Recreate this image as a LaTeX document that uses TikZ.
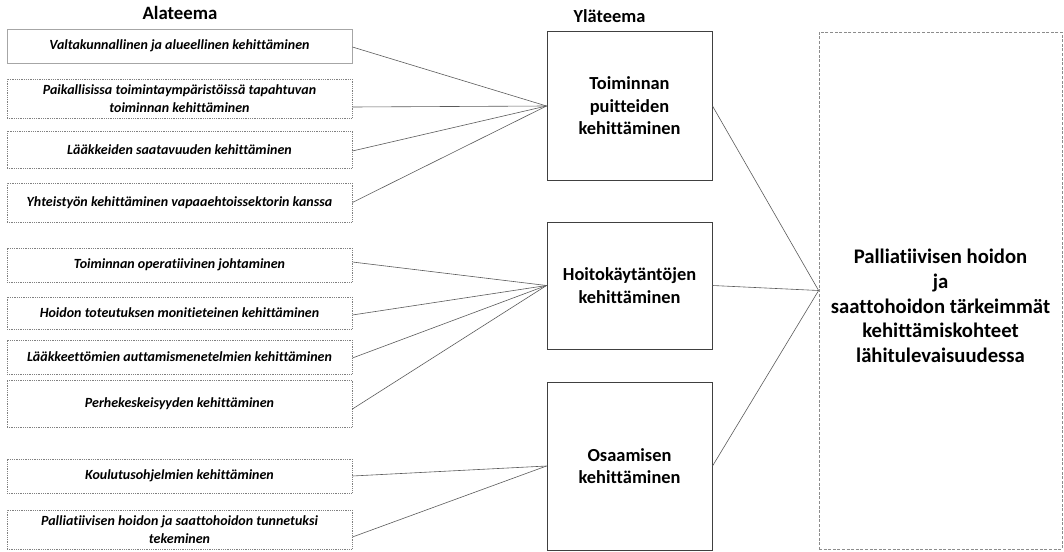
\documentclass[tikz,border=0pt]{standalone}
\usepackage{fontspec}
\setmainfont{Carlito}[Ligatures=NoCommon]
\definecolor{subgray}{HTML}{808080}
\definecolor{firstgray}{HTML}{A6A6A6}
\definecolor{topgray}{HTML}{404040}
\definecolor{maingray}{HTML}{8C8C8C}
\definecolor{linkgray}{HTML}{5A5A5A}
\begin{document}
\begin{tikzpicture}[x=1pt,y=-1pt,
  subbox/.style={draw=subgray, dash pattern=on 0.9pt off 0.9pt, line width=0.8pt,
    minimum width=345pt, inner sep=0pt, align=center,
    font=\fontsize{14}{18.5}\selectfont\bfseries\itshape},
  firstbox/.style={subbox, draw=firstgray, solid, line width=0.8pt},
  topbox/.style={draw=topgray, line width=1pt, minimum width=165pt, inner sep=0pt,
    align=center, font=\fontsize{18.4}{22.5}\selectfont\bfseries},
  mainbox/.style={draw=maingray, dash pattern=on 3pt off 1.6pt, line width=0.8pt,
    minimum width=243pt, minimum height=517pt, inner sep=0pt},
  maintext/.style={align=center, inner sep=0pt, font=\fontsize{20.7}{24.8}\selectfont\bfseries},
  head/.style={inner sep=0pt, font=\fontsize{18.8}{22}\selectfont\bfseries},
  link/.style={draw=linkgray, line width=0.6pt}]
\useasboundingbox (0,0) rectangle (1064,551);

\node[head] (hA) at (180,13) {Alateema};
\node[head, font=\fontsize{18.4}{22}\selectfont\bfseries] (hY) at (609.5,16) {Yläteema};

\node[firstbox, minimum height=34pt] (b1) at (179.5,46) {Valtakunnallinen ja alueellinen kehittäminen};
\node[subbox, minimum height=39pt] (b2) at (179.5,98.5) {Paikallisissa toimintaympäristöissä tapahtuvan\\toiminnan kehittäminen};
\node[subbox, minimum height=37pt] (b3) at (179.5,149.5) {Lääkkeiden saatavuuden kehittäminen};
\node[subbox, minimum height=39pt] (b4) at (179.5,202.5) {Yhteistyön kehittäminen vapaaehtoissektorin kanssa};
\node[subbox, minimum height=34pt] (b5) at (179.5,265) {Toiminnan operatiivinen johtaminen};
\node[subbox, minimum height=32pt] (b6) at (179.5,313) {Hoidon toteutuksen monitieteinen kehittäminen};
\node[subbox, minimum height=34pt] (b7) at (179.5,357) {Lääkkeettömien auttamismenetelmien kehittäminen};
\node[subbox, minimum height=47pt] (b8) at (179.5,403.5) {Perhekeskeisyyden kehittäminen};
\node[subbox, minimum height=34pt] (b9) at (179.5,476) {Koulutusohjelmien kehittäminen};
\node[subbox, minimum height=39pt] (b10) at (179.5,529.5) {Palliatiivisen hoidon ja saattohoidon tunnetuksi\\tekeminen};

\node[topbox, minimum height=148pt] (t1) at (629.5,106) {Toiminnan\\puitteiden\\kehittäminen};
\node[topbox, minimum height=127pt] (t2) at (629.5,285.5) {Hoitokäytäntöjen\\kehittäminen};
\node[topbox, minimum height=168pt] (t3) at (629.5,466) {Osaamisen\\kehittäminen};

\node[mainbox] (m) at (940.5,290.5) {};
\node[maintext] (mt) at (940.5,306) {Palliatiivisen hoidon\\ja\\saattohoidon tärkeimmät\\kehittämiskohteet\\lähitulevaisuudessa};

\draw[link] ([yshift=-1pt]b1.east) -- (t1.west);
\draw[link] ([yshift=-8.5pt]b2.east) -- (t1.west);
\draw[link] ([yshift=-1.5pt]b3.east) -- (t1.west);
\draw[link] (b4.east) -- (t1.west);
\draw[link] ([yshift=3pt]b5.east) -- (t2.west);
\draw[link] ([yshift=-2pt]b6.east) -- (t2.west);
\draw[link] ([yshift=-1pt]b7.east) -- (t2.west);
\draw[link] ([yshift=-5.5pt]b8.east) -- (t2.west);
\draw[link] (b9.east) -- (t3.west);
\draw[link] ([yshift=-7.5pt]b10.east) -- (t3.west);
\draw[link] (t1.east) -- (m.west);
\draw[link] (t2.east) -- (m.west);
\draw[link] (t3.east) -- (m.west);
\end{tikzpicture}
\end{document}
